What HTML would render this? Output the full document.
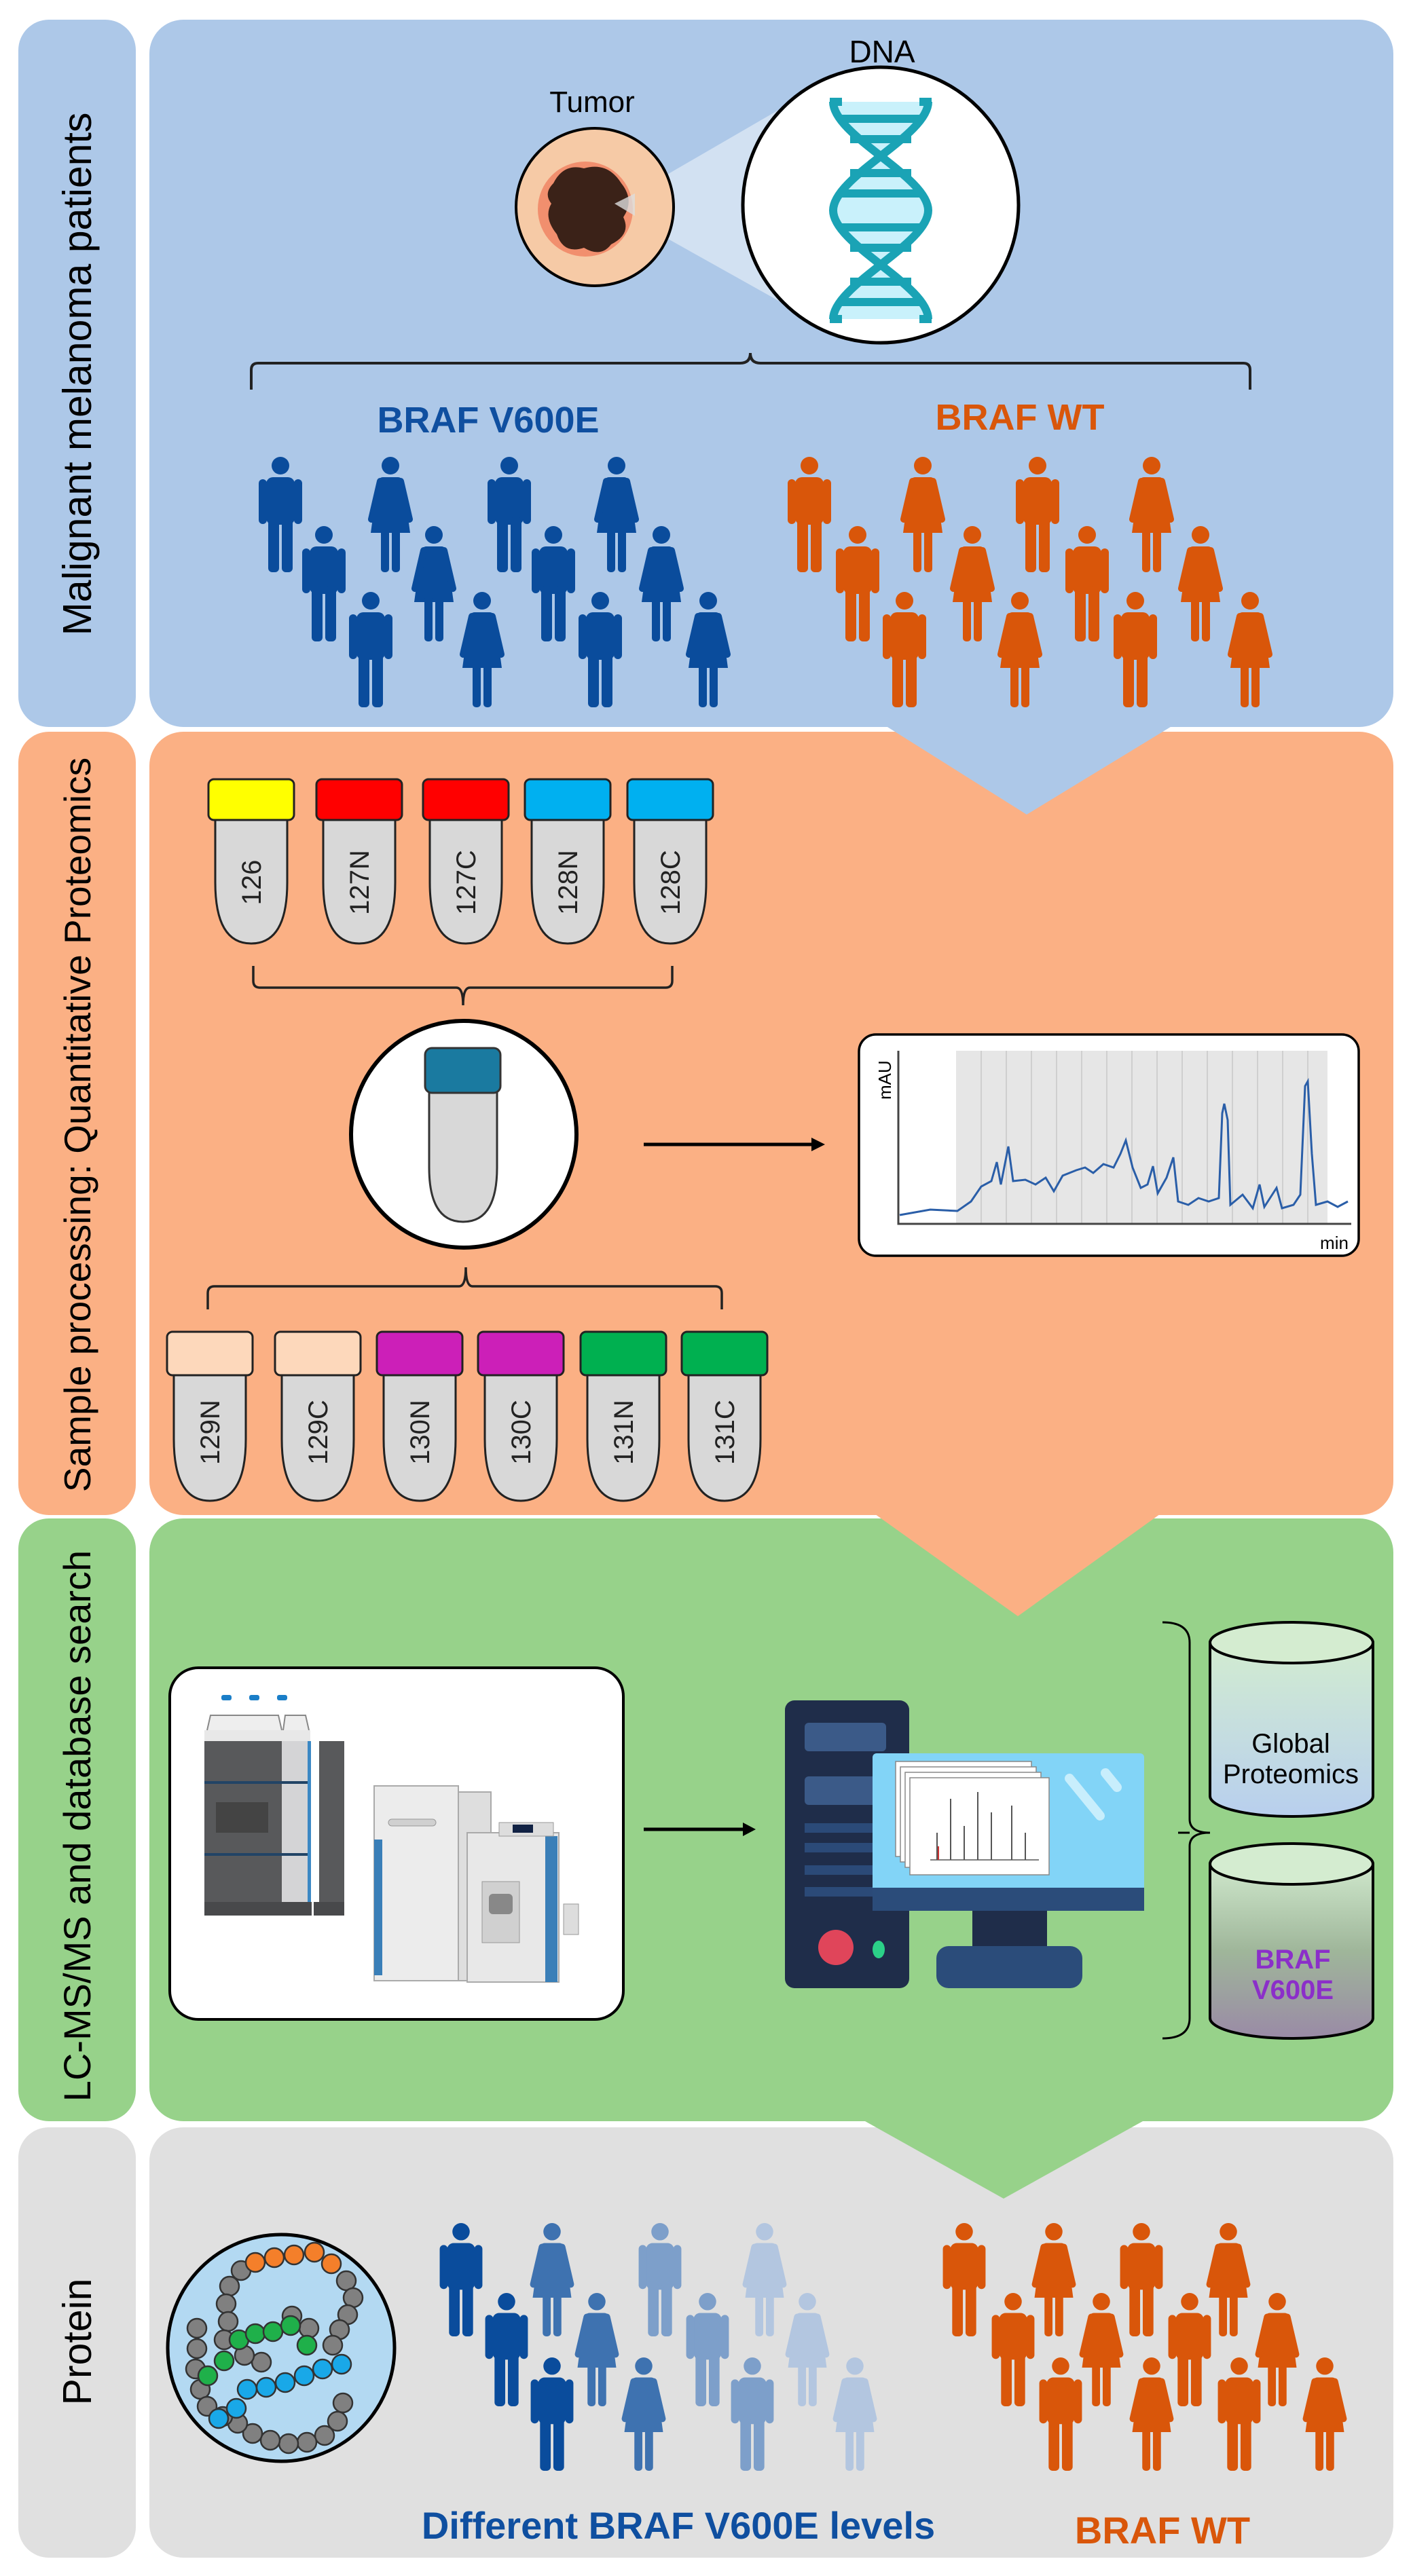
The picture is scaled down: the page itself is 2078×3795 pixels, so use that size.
<!DOCTYPE html>
<html><head><meta charset="utf-8"><style>
html,body{margin:0;padding:0;background:#fff}
svg{display:block}
text{font-family:"Liberation Sans",Arial,sans-serif}
.n{font-family:"Liberation Sans Narrow","Liberation Sans",sans-serif}
</style></head><body>
<svg width="2078" height="3795" viewBox="0 0 2078 3795" xmlns="http://www.w3.org/2000/svg">
<defs>
<symbol id="m" viewBox="0 0 70 170">
<circle cx="35" cy="13" r="13"/>
<rect x="14" y="30" width="42" height="70" rx="10"/>
<rect x="3" y="33" width="12" height="66" rx="6"/>
<rect x="55" y="33" width="12" height="66" rx="6"/>
<rect x="17" y="88" width="16" height="82" rx="6"/>
<rect x="37" y="88" width="16" height="82" rx="6"/>
</symbol>
<symbol id="w" viewBox="0 0 70 170">
<circle cx="35" cy="13" r="13"/>
<path d="M24,30 H46 Q52,30 54,38 L64,112 H6 L16,38 Q18,30 24,30 Z"/>
<path d="M20,36 L7,92 M50,36 L63,92" stroke-width="10" stroke-linecap="round" stroke="currentColor" fill="none"/>
<rect x="21" y="104" width="12" height="66" rx="5"/>
<rect x="37" y="104" width="12" height="66" rx="5"/>
</symbol>
<linearGradient id="cy1" x1="0" y1="0" x2="0" y2="1"><stop offset="0" stop-color="#d2ecd0"/><stop offset="1" stop-color="#b8cfee"/></linearGradient>
<linearGradient id="cy2" x1="0" y1="0" x2="0" y2="1"><stop offset="0" stop-color="#cfe8cc"/><stop offset="0.5" stop-color="#9fb69a"/><stop offset="1" stop-color="#9a8aa6"/></linearGradient>
</defs>

<rect x="27" y="29" width="173" height="1042" rx="45" fill="#adc8e8"/>
<rect x="27" y="1078" width="173" height="1154" rx="45" fill="#fbb084"/>
<rect x="27" y="2237" width="173" height="888" rx="45" fill="#97d28a"/>
<rect x="27" y="3134" width="173" height="634" rx="45" fill="#e0e0e0"/>

<rect x="220" y="3134" width="1832" height="634" rx="50" fill="#e0e0e0"/>
<rect x="220" y="2237" width="1832" height="888" rx="50" fill="#97d28a"/>
<polygon points="1265,3120 1692,3120 1478,3239" fill="#97d28a"/>
<rect x="220" y="1078" width="1832" height="1154" rx="50" fill="#fbb084"/>
<polygon points="1285,2228 1712,2228 1499,2381" fill="#fbb084"/>
<rect x="220" y="29" width="1832" height="1042" rx="50" fill="#adc8e8"/>
<polygon points="1299,1066 1732,1066 1512,1200" fill="#adc8e8"/>

<g fill="#000" text-anchor="middle">
<text font-size="59" transform="translate(134,551) rotate(-90)">Malignant melanoma patients</text>
<text font-size="55" transform="translate(133,1657) rotate(-90)">Sample processing: Quantitative Proteomics</text>
<text font-size="56" transform="translate(133,2690) rotate(-90)">LC-MS/MS and database search</text>
<text font-size="59" transform="translate(134,3450) rotate(-90)">Protein</text>
</g>

<text x="1299" y="92" font-size="46" text-anchor="middle" class="n">DNA</text>
<text x="872" y="165" font-size="44" text-anchor="middle" class="n">Tumor</text>
<polygon points="900,305 1150,160 1150,445" fill="#ffffff" opacity="0.45"/>
<ellipse cx="876" cy="305" rx="116" ry="116" fill="#f6caa6" stroke="#000" stroke-width="4"/>
<circle cx="862" cy="308" r="70" fill="#f08060" opacity="0.8"/>
<path d="M815,270 Q830,240 860,248 Q895,238 915,270 Q935,295 918,320 Q930,345 900,360 Q885,380 860,365 Q830,375 820,345 Q800,320 812,300 Q800,285 815,270 Z" fill="#3b2218"/>
<polygon points="905,300 935,285 935,318" fill="#dddddd" opacity="0.8"/>
<circle cx="1297" cy="302" r="203" fill="#fff" stroke="#000" stroke-width="5"/>
<path d="M1227,150 C1227,200 1367,260 1367,310 C1367,360 1227,420 1227,470 L1367,470 C1367,420 1227,360 1227,310 C1227,260 1367,200 1367,150 Z" fill="#c9f1fb"/>
<g stroke="#1aa3b5" stroke-width="12" fill="none">
<path d="M1227,150 C1227,200 1367,260 1367,310 C1367,360 1227,420 1227,470"/>
<path d="M1367,150 C1367,200 1227,260 1227,310 C1227,360 1367,420 1367,470"/>
<path d="M1222,150 H1240 M1354,150 H1372 M1222,470 H1240 M1354,470 H1372"/>
<path d="M1235,175 H1359 M1252,205 H1342 M1252,255 H1342 M1235,285 H1359 M1235,335 H1359 M1252,365 H1342 M1252,415 H1342 M1235,445 H1359"/>
</g>
<path d="M370,574 V545 Q370,535 380,535 H1090 Q1105,535 1105,520 Q1105,535 1120,535 H1831 Q1841,535 1841,545 V574" stroke="#222" stroke-width="4" fill="none"/>
<text x="719" y="637" font-size="54" font-weight="bold" fill="#0f4fa0" text-anchor="middle" class="n">BRAF V600E</text>
<text x="1502" y="633" font-size="54" font-weight="bold" fill="#d9560a" text-anchor="middle" class="n">BRAF WT</text>

<g fill="#0a4c9c" color="#0a4c9c">
<use href="#m" x="378" y="673" width="70" height="170"/><use href="#w" x="540" y="673" width="70" height="170"/><use href="#m" x="715" y="673" width="70" height="170"/><use href="#w" x="873" y="673" width="70" height="170"/>
<use href="#m" x="442" y="775" width="70" height="170"/><use href="#w" x="604" y="775" width="70" height="170"/><use href="#m" x="780" y="775" width="70" height="170"/><use href="#w" x="939" y="775" width="70" height="170"/>
<use href="#m" x="511" y="872" width="70" height="170"/><use href="#w" x="675" y="872" width="70" height="170"/><use href="#m" x="849" y="872" width="70" height="170"/><use href="#w" x="1008" y="872" width="70" height="170"/>
</g>
<g fill="#d9560a" color="#d9560a">
<use href="#m" x="1157" y="673" width="70" height="170"/><use href="#w" x="1324" y="673" width="70" height="170"/><use href="#m" x="1493" y="673" width="70" height="170"/><use href="#w" x="1661" y="673" width="70" height="170"/>
<use href="#m" x="1228" y="775" width="70" height="170"/><use href="#w" x="1397" y="775" width="70" height="170"/><use href="#m" x="1566" y="775" width="70" height="170"/><use href="#w" x="1733" y="775" width="70" height="170"/>
<use href="#m" x="1297" y="872" width="70" height="170"/><use href="#w" x="1467" y="872" width="70" height="170"/><use href="#m" x="1637" y="872" width="70" height="170"/><use href="#w" x="1806" y="872" width="70" height="170"/>
</g>

<g stroke="#222" stroke-width="3">
<path d="M317,1205 V1300 Q317,1390 370,1390 Q423,1390 423,1300 V1205 Z" fill="#d8d8d8"/>
<rect x="307" y="1148" width="126" height="60" rx="8" fill="#ffff00"/>
<path d="M476,1205 V1300 Q476,1390 529,1390 Q582,1390 582,1300 V1205 Z" fill="#d8d8d8"/>
<rect x="466" y="1148" width="126" height="60" rx="8" fill="#ff0000"/>
<path d="M633,1205 V1300 Q633,1390 686,1390 Q739,1390 739,1300 V1205 Z" fill="#d8d8d8"/>
<rect x="623" y="1148" width="126" height="60" rx="8" fill="#ff0000"/>
<path d="M783,1205 V1300 Q783,1390 836,1390 Q889,1390 889,1300 V1205 Z" fill="#d8d8d8"/>
<rect x="773" y="1148" width="126" height="60" rx="8" fill="#00b0f0"/>
<path d="M934,1205 V1300 Q934,1390 987,1390 Q1040,1390 1040,1300 V1205 Z" fill="#d8d8d8"/>
<rect x="924" y="1148" width="126" height="60" rx="8" fill="#00b0f0"/>
<path d="M256,2024 V2120 Q256,2211 309,2211 Q362,2211 362,2120 V2024 Z" fill="#d8d8d8"/>
<rect x="246" y="1962" width="126" height="64" rx="8" fill="#fdd8bb"/>
<path d="M415,2024 V2120 Q415,2211 468,2211 Q521,2211 521,2120 V2024 Z" fill="#d8d8d8"/>
<rect x="405" y="1962" width="126" height="64" rx="8" fill="#fdd8bb"/>
<path d="M565,2024 V2120 Q565,2211 618,2211 Q671,2211 671,2120 V2024 Z" fill="#d8d8d8"/>
<rect x="555" y="1962" width="126" height="64" rx="8" fill="#cc1fb8"/>
<path d="M714,2024 V2120 Q714,2211 767,2211 Q820,2211 820,2120 V2024 Z" fill="#d8d8d8"/>
<rect x="704" y="1962" width="126" height="64" rx="8" fill="#cc1fb8"/>
<path d="M865,2024 V2120 Q865,2211 918,2211 Q971,2211 971,2120 V2024 Z" fill="#d8d8d8"/>
<rect x="855" y="1962" width="126" height="64" rx="8" fill="#00b050"/>
<path d="M1014,2024 V2120 Q1014,2211 1067,2211 Q1120,2211 1120,2120 V2024 Z" fill="#d8d8d8"/>
<rect x="1004" y="1962" width="126" height="64" rx="8" fill="#00b050"/>
</g>
<g font-size="40" fill="#222" text-anchor="middle">
<text transform="translate(384,1300) rotate(-90)">126</text>
<text transform="translate(543,1300) rotate(-90)">127N</text>
<text transform="translate(700,1300) rotate(-90)">127C</text>
<text transform="translate(850,1300) rotate(-90)">128N</text>
<text transform="translate(1001,1300) rotate(-90)">128C</text>
<text transform="translate(323,2110) rotate(-90)">129N</text>
<text transform="translate(482,2110) rotate(-90)">129C</text>
<text transform="translate(632,2110) rotate(-90)">130N</text>
<text transform="translate(781,2110) rotate(-90)">130C</text>
<text transform="translate(932,2110) rotate(-90)">131N</text>
<text transform="translate(1081,2110) rotate(-90)">131C</text>
</g>
<path d="M373,1423 V1445 Q373,1455 383,1455 H672 Q682,1455 682,1481 Q682,1455 692,1455 H980 Q990,1455 990,1445 V1423" stroke="#222" stroke-width="3.5" fill="none"/>
<path d="M306,1929 V1905 Q306,1895 316,1895 H676 Q686,1895 686,1867 Q686,1895 696,1895 H1053 Q1063,1895 1063,1905 V1929" stroke="#222" stroke-width="3.5" fill="none"/>
<ellipse cx="683" cy="1671" rx="166" ry="167" fill="#fff" stroke="#000" stroke-width="6"/>
<path d="M632,1605 V1720 Q632,1800 682,1800 Q732,1800 732,1720 V1605 Z" fill="#d8d8d8" stroke="#333" stroke-width="3"/>
<rect x="626" y="1544" width="111" height="66" rx="10" fill="#1a7aa0" stroke="#333" stroke-width="3"/>
<line x1="948" y1="1686" x2="1200" y2="1686" stroke="#000" stroke-width="5"/>
<polygon points="1215,1686 1195,1676 1195,1696" fill="#000"/>

<rect x="1265" y="1524" width="736" height="326" rx="25" fill="#fff" stroke="#000" stroke-width="3.5"/>
<rect x="1408" y="1548" width="547" height="255" fill="#e6e6e6"/>
<g stroke="#cfcfcf" stroke-width="2">
<path d="M1445,1548V1803M1482,1548V1803M1519,1548V1803M1556,1548V1803M1593,1548V1803M1630,1548V1803M1667,1548V1803M1704,1548V1803M1741,1548V1803M1778,1548V1803M1815,1548V1803M1852,1548V1803M1889,1548V1803M1926,1548V1803"/>
</g>
<path d="M1323,1548 V1803 H1990" stroke="#444" stroke-width="3" fill="none"/>
<text transform="translate(1312,1620) rotate(-90)" font-size="26">mAU</text>
<text x="1965" y="1840" font-size="26" text-anchor="middle" class="n">min</text>
<polyline fill="none" stroke="#2a5ea8" stroke-width="3" points="1325,1790 1370,1782 1410,1784 1430,1770 1445,1748 1460,1740 1468,1712 1474,1745 1485,1689 1492,1740 1510,1738 1525,1745 1540,1735 1552,1755 1565,1732 1585,1724 1598,1720 1610,1728 1625,1715 1640,1720 1650,1700 1658,1680 1668,1720 1680,1750 1690,1745 1698,1718 1705,1758 1718,1735 1728,1705 1735,1770 1750,1775 1765,1765 1780,1770 1795,1765 1800,1640 1803,1626 1808,1650 1812,1775 1830,1760 1845,1780 1855,1745 1862,1778 1880,1750 1888,1780 1905,1775 1915,1760 1922,1600 1926,1593 1932,1700 1938,1775 1955,1770 1970,1778 1985,1770"/>

<rect x="250" y="2457" width="668" height="518" rx="42" fill="#fff" stroke="#000" stroke-width="4"/>
<rect x="326" y="2497" width="15" height="8" rx="3" fill="#1a7ec8"/>
<rect x="367" y="2497" width="15" height="8" rx="3" fill="#1a7ec8"/>
<rect x="408" y="2497" width="15" height="8" rx="3" fill="#1a7ec8"/>
<path d="M305,2549 L310,2527 H410 L415,2549 M417,2549 L420,2527 H450 L455,2549" stroke="#888" stroke-width="2" fill="#eee"/>
<rect x="301" y="2549" width="156" height="16" fill="#e8e8e8"/>
<rect x="301" y="2565" width="114" height="237" fill="#58595b"/>
<rect x="415" y="2565" width="38" height="237" fill="#d4d4d6"/>
<rect x="453" y="2565" width="5" height="237" fill="#3b88c4"/>
<rect x="470" y="2565" width="37" height="237" fill="#58595b"/>
<rect x="318" y="2655" width="77" height="45" fill="#444"/>
<rect x="301" y="2624" width="152" height="4" fill="#246"/>
<rect x="301" y="2730" width="152" height="4" fill="#246"/>
<rect x="301" y="2802" width="158" height="20" fill="#48494b"/>
<rect x="462" y="2802" width="45" height="20" fill="#48494b"/>
<rect x="551" y="2631" width="124" height="287" fill="#ececec" stroke="#aaa" stroke-width="2"/>
<rect x="675" y="2640" width="48" height="278" fill="#dedede" stroke="#aaa" stroke-width="2"/>
<rect x="551" y="2710" width="12" height="200" fill="#3a7fb8"/>
<rect x="572" y="2680" width="70" height="10" rx="5" fill="#d0d0d0" stroke="#999"/>
<rect x="688" y="2700" width="135" height="220" fill="#e8e8e8" stroke="#aaa" stroke-width="2"/>
<rect x="803" y="2705" width="18" height="215" fill="#3a7fb8"/>
<rect x="735" y="2685" width="80" height="20" fill="#ddd" stroke="#999"/>
<rect x="755" y="2688" width="30" height="12" fill="#124"/>
<rect x="710" y="2772" width="55" height="90" fill="#d0d0d0" stroke="#999"/>
<rect x="720" y="2790" width="35" height="30" rx="6" fill="#888"/>
<rect x="830" y="2805" width="22" height="45" fill="#ddd" stroke="#999"/>
<line x1="948" y1="2695" x2="1100" y2="2695" stroke="#000" stroke-width="5"/>
<polygon points="1113,2695 1094,2685 1094,2705" fill="#000"/>
<rect x="1156" y="2505" width="183" height="424" rx="14" fill="#1f2d4a"/>
<rect x="1185" y="2538" width="120" height="42" rx="6" fill="#3b5a88"/>
<rect x="1185" y="2617" width="120" height="42" rx="6" fill="#3b5a88"/>
<rect x="1185" y="2686" width="120" height="14" fill="#2b4a78"/>
<rect x="1185" y="2715" width="120" height="14" fill="#2b4a78"/>
<rect x="1185" y="2748" width="120" height="14" fill="#2b4a78"/>
<rect x="1185" y="2780" width="120" height="14" fill="#2b4a78"/>
<circle cx="1231" cy="2869" r="26" fill="#e0455a"/>
<ellipse cx="1294" cy="2872" rx="9" ry="13" fill="#2bd188"/>
<rect x="1285" y="2583" width="400" height="232" rx="6" fill="#82d4f7"/>
<rect x="1285" y="2781" width="400" height="34" fill="#2b4c7a"/>
<rect x="1432" y="2815" width="110" height="58" fill="#1f2d4a"/>
<rect x="1379" y="2867" width="215" height="62" rx="18" fill="#2b4c7a"/>
<path d="M1575,2620 L1620,2675 M1628,2612 L1645,2633" stroke="#c8eefc" stroke-width="14" stroke-linecap="round"/>
<g stroke="#888" stroke-width="1.5" fill="#fff">
<rect x="1319" y="2595" width="200" height="140"/>
<rect x="1326" y="2603" width="200" height="140"/>
<rect x="1333" y="2611" width="200" height="140"/>
<rect x="1340" y="2619" width="205" height="143"/>
</g>
<path d="M1380,2740V2700M1400,2740V2650M1420,2740V2690M1440,2740V2640M1460,2740V2670M1490,2740V2660M1510,2740V2700" stroke="#555" stroke-width="2"/>
<line x1="1370" y1="2740" x2="1530" y2="2740" stroke="#555" stroke-width="1.5"/>
<line x1="1382" y1="2740" x2="1382" y2="2720" stroke="#c33" stroke-width="2"/>
<path d="M1712,2390 Q1752,2390 1752,2420 V2680 Q1752,2700 1782,2700" stroke="#000" stroke-width="3" fill="none"/>
<path d="M1712,3003 Q1752,3003 1752,2973 V2720 Q1752,2700 1782,2700 M1752,2700 H1735" stroke="#000" stroke-width="3" fill="none"/>
<path d="M1782,2420 V2646 A120,30 0 0 0 2022,2646 V2420 Z" fill="url(#cy1)" stroke="#000" stroke-width="4"/>
<ellipse cx="1902" cy="2420" rx="120" ry="30" fill="#d4ecd0" stroke="#000" stroke-width="4"/>
<path d="M1782,2746 V2973 A120,30 0 0 0 2022,2973 V2746 Z" fill="url(#cy2)" stroke="#000" stroke-width="4"/>
<ellipse cx="1902" cy="2746" rx="120" ry="30" fill="#d4ecd0" stroke="#000" stroke-width="4"/>
<g font-size="40" text-anchor="middle" class="n">
<text x="1901" y="2582">Global</text>
<text x="1901" y="2627">Proteomics</text>
<text x="1904" y="2900" font-weight="bold" fill="#8b2fc9">BRAF</text>
<text x="1904" y="2945" font-weight="bold" fill="#8b2fc9">V600E</text>
</g>

<circle cx="414" cy="3459" r="167" fill="#b3d9f2" stroke="#000" stroke-width="5"/>
<g stroke="#333" stroke-width="2.5">
<g fill="#808080">
<circle cx="510" cy="3360" r="14"/><circle cx="520" cy="3385" r="14"/><circle cx="512" cy="3410" r="14"/><circle cx="500" cy="3432" r="14"/><circle cx="490" cy="3455" r="14"/>
<circle cx="355" cy="3345" r="14"/><circle cx="338" cy="3368" r="14"/><circle cx="333" cy="3394" r="14"/><circle cx="336" cy="3420" r="14"/><circle cx="330" cy="3447" r="14"/>
<circle cx="290" cy="3430" r="14"/><circle cx="290" cy="3460" r="14"/><circle cx="288" cy="3490" r="14"/><circle cx="295" cy="3520" r="14"/><circle cx="305" cy="3545" r="14"/>
<circle cx="385" cy="3480" r="14"/><circle cx="360" cy="3470" r="14"/><circle cx="430" cy="3412" r="14"/><circle cx="455" cy="3430" r="14"/>
<circle cx="505" cy="3540" r="14"/><circle cx="497" cy="3567" r="14"/><circle cx="478" cy="3588" r="14"/><circle cx="452" cy="3598" r="14"/><circle cx="425" cy="3600" r="14"/><circle cx="398" cy="3595" r="14"/><circle cx="372" cy="3585" r="14"/><circle cx="350" cy="3570" r="14"/><circle cx="328" cy="3560" r="14"/>
</g>
<g fill="#f47f2a"><circle cx="376" cy="3333" r="14"/><circle cx="404" cy="3326" r="14"/><circle cx="433" cy="3322" r="14"/><circle cx="463" cy="3318" r="14"/><circle cx="488" cy="3335" r="14"/></g>
<g fill="#1fb04a"><circle cx="306" cy="3500" r="14"/><circle cx="330" cy="3478" r="14"/><circle cx="352" cy="3447" r="14"/><circle cx="376" cy="3438" r="14"/><circle cx="402" cy="3435" r="14"/><circle cx="428" cy="3426" r="14"/><circle cx="452" cy="3455" r="14"/></g>
<g fill="#19a8e8"><circle cx="322" cy="3563" r="14"/><circle cx="348" cy="3548" r="14"/><circle cx="364" cy="3520" r="14"/><circle cx="392" cy="3517" r="14"/><circle cx="420" cy="3510" r="14"/><circle cx="448" cy="3500" r="14"/><circle cx="475" cy="3490" r="14"/><circle cx="503" cy="3483" r="14"/></g>
</g>
<g fill="#0a4c9c" color="#0a4c9c"><use href="#m" x="644" y="3275" width="70" height="167"/><use href="#m" x="711" y="3378" width="70" height="167"/><use href="#m" x="778" y="3473" width="70" height="167"/></g>
<g fill="#3e72b0" color="#3e72b0"><use href="#w" x="778" y="3275" width="70" height="167"/><use href="#w" x="844" y="3378" width="70" height="167"/><use href="#w" x="913" y="3473" width="70" height="167"/></g>
<g fill="#7d9fca" color="#7d9fca"><use href="#m" x="937" y="3275" width="70" height="167"/><use href="#m" x="1007" y="3378" width="70" height="167"/><use href="#m" x="1073" y="3473" width="70" height="167"/></g>
<g fill="#b3c6e0" color="#b3c6e0"><use href="#w" x="1091" y="3275" width="70" height="167"/><use href="#w" x="1154" y="3378" width="70" height="167"/><use href="#w" x="1224" y="3473" width="70" height="167"/></g>
<g fill="#d9560a" color="#d9560a">
<use href="#m" x="1385" y="3275" width="70" height="167"/><use href="#w" x="1517" y="3275" width="70" height="167"/><use href="#m" x="1646" y="3275" width="70" height="167"/><use href="#w" x="1774" y="3275" width="70" height="167"/>
<use href="#m" x="1457" y="3378" width="70" height="167"/><use href="#w" x="1587" y="3378" width="70" height="167"/><use href="#m" x="1717" y="3378" width="70" height="167"/><use href="#w" x="1846" y="3378" width="70" height="167"/>
<use href="#m" x="1527" y="3473" width="70" height="167"/><use href="#w" x="1661" y="3473" width="70" height="167"/><use href="#m" x="1790" y="3473" width="70" height="167"/><use href="#w" x="1916" y="3473" width="70" height="167"/>
</g>
<text x="999" y="3740" font-size="56" font-weight="bold" fill="#0f4fa0" text-anchor="middle" class="n">Different BRAF V600E levels</text>
<text x="1712" y="3747" font-size="56" font-weight="bold" fill="#d9560a" text-anchor="middle" class="n">BRAF WT</text>
</svg>
</body></html>
